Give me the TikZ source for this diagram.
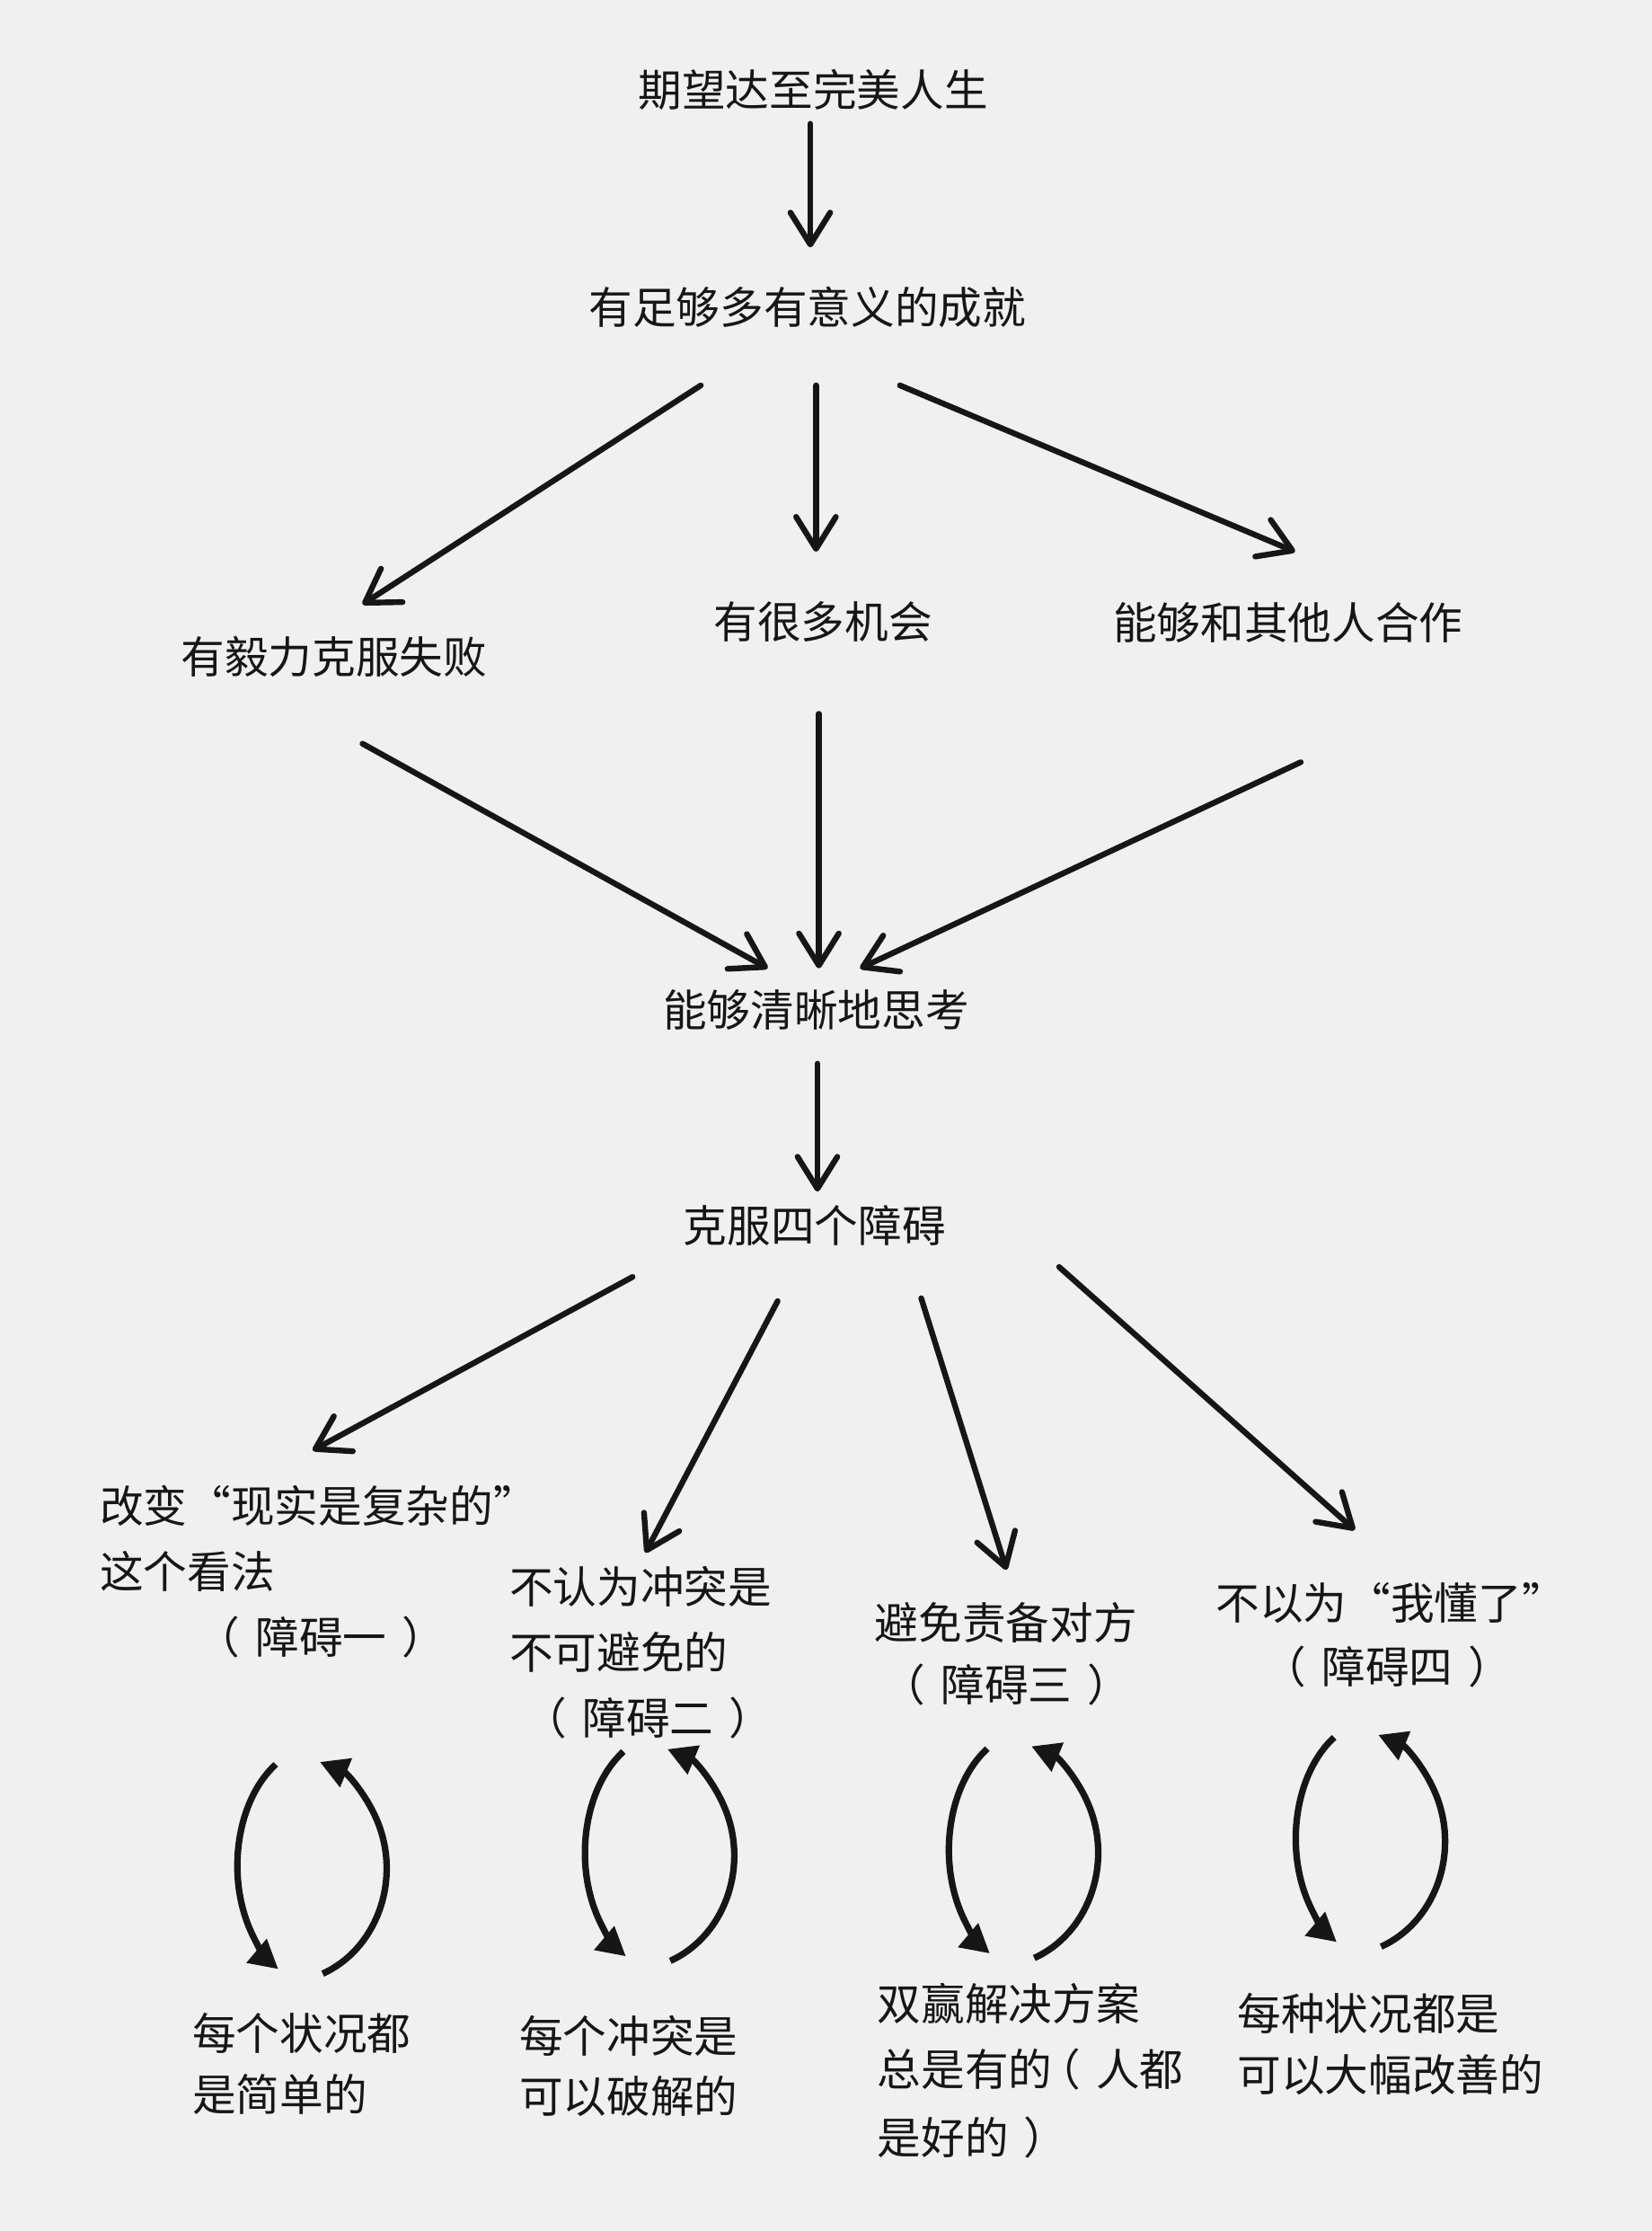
\documentclass[tikz,border=0pt]{standalone}
\usepackage{fontspec}
\newfontfamily\cjk[RawFeature=+fwid]{Noto Sans CJK SC}
\usetikzlibrary{arrows.meta,calc}
\definecolor{paper}{RGB}{240,240,240}
\definecolor{ink}{RGB}{22,22,22}
\newcommand\cjklp{\kern-0.35em（\kern0.35em}
\newcommand\cjkrp{\kern0.35em）\kern-0.35em}
\begin{document}
\begin{tikzpicture}[x=0.02cm,y=-0.02cm,
  lbl/.style={font=\cjk\fontsize{17.5pt}{21pt}\selectfont, text=ink, inner sep=0pt},
  arr/.style={draw=ink, line width=2.3pt, line cap=round, -{Straight Barb[length=0.45cm,width=0.56cm,round]}},
  cyc/.style={draw=ink, line width=2.6pt, -{Triangle[length=0.4cm,width=0.42cm]}},
  twoarcs/.pic={
    \draw[cyc] (-25.5,-73.2) arc[start angle=238, end angle=120, x radius=57.5, y radius=84];
    \draw[cyc] (7.5,74) arc[start angle=67.7, end angle=-69.4, x radius=72.5, y radius=80];
  }]
\fill[paper] (0,0) rectangle (1162,1569);
\useasboundingbox (0,0) rectangle (1162,1569);

\node[lbl] (t1) at (572,63) {期望达至完美人生};
\node[lbl] (t2) at (568,216) {有足够多有意义的成就};
\node[lbl] (na) at (235,462) {有毅力克服失败};
\node[lbl] (nb) at (579,437) {有很多机会};
\node[lbl] (nc) at (906,438) {能够和其他人合作};
\node[lbl] (nd) at (574,710) {能够清晰地思考};
\node[lbl] (ne) at (573,862) {克服四个障碍};

\node[lbl,anchor=west] (o1a) at (70,1059) {改变“现实是复杂的”};
\node[lbl,anchor=west] (o1b) at (70,1105) {这个看法};
\node[lbl] (o1c) at (226,1151) {\cjklp 障碍一\cjkrp};
\node[lbl,anchor=west] (o2a) at (358,1116) {不认为冲突是};
\node[lbl,anchor=west] (o2b) at (358,1162) {不可避免的};
\node[lbl] (o2c) at (456,1208) {\cjklp 障碍二\cjkrp};
\node[lbl,anchor=west] (o3a) at (615,1141) {避免责备对方};
\node[lbl] (o3c) at (708,1185) {\cjklp 障碍三\cjkrp};
\node[lbl,anchor=west] (o4a) at (855,1127) {不以为“我懂了”};
\node[lbl] (o4c) at (976,1172) {\cjklp 障碍四\cjkrp};

\node[lbl,anchor=west] (r1a) at (135,1430) {每个状况都};
\node[lbl,anchor=west] (r1b) at (135,1473) {是简单的};
\node[lbl,anchor=west] (r2a) at (365,1432) {每个冲突是};
\node[lbl,anchor=west] (r2b) at (365,1474) {可以破解的};
\node[lbl,anchor=west] (r3a) at (617,1409) {双赢解决方案};
\node[lbl,anchor=west] (r3b) at (617,1455) {总是有的\cjklp 人都};
\node[lbl,anchor=west] (r3c) at (617,1503) {是好的\cjkrp};
\node[lbl,anchor=west] (r4a) at (870,1416) {每种状况都是};
\node[lbl,anchor=west] (r4b) at (870,1459) {可以大幅改善的};

\draw[arr] ($(t1)+(-2,24)$) -- ($(t2)+(2,-42)$);
\draw[arr] ($(t2)+(-75,55)$) -- ($(na)+(20,-37)$);
\draw[arr] ($(t2)+(6,55)$) -- ($(nb)+(-5,-49)$);
\draw[arr] ($(t2)+(65,55)$) -- ($(nc)+(5,-50)$);
\draw[arr] ($(na)+(20,61)$) -- ($(nd)+(-34,-29)$);
\draw[arr] ($(nb)+(-3,65)$) -- ($(nd)+(2,-29)$);
\draw[arr] ($(nc)+(9,98)$) -- ($(nd)+(31,-29)$);
\draw[arr] ($(nd)+(1,38)$) -- ($(ne)+(2,-24)$);
\draw[arr] ($(ne)+(-128,36)$) -- ($(o1a.west)+(150,-39)$);
\draw[arr] ($(ne)+(-26,53)$) -- ($(o2a.west)+(96,-24)$);
\draw[arr] ($(ne)+(75,51)$) -- ($(o3a.west)+(93,-37)$);
\draw[arr] ($(ne)+(172,29)$) -- ($(o4a.west)+(98,-51)$);

\pic at (219.5,1314) {twoarcs};
\pic at (464,1305) {twoarcs};
\pic at (720,1303) {twoarcs};
\pic at (964,1295) {twoarcs};
\end{tikzpicture}
\end{document}
